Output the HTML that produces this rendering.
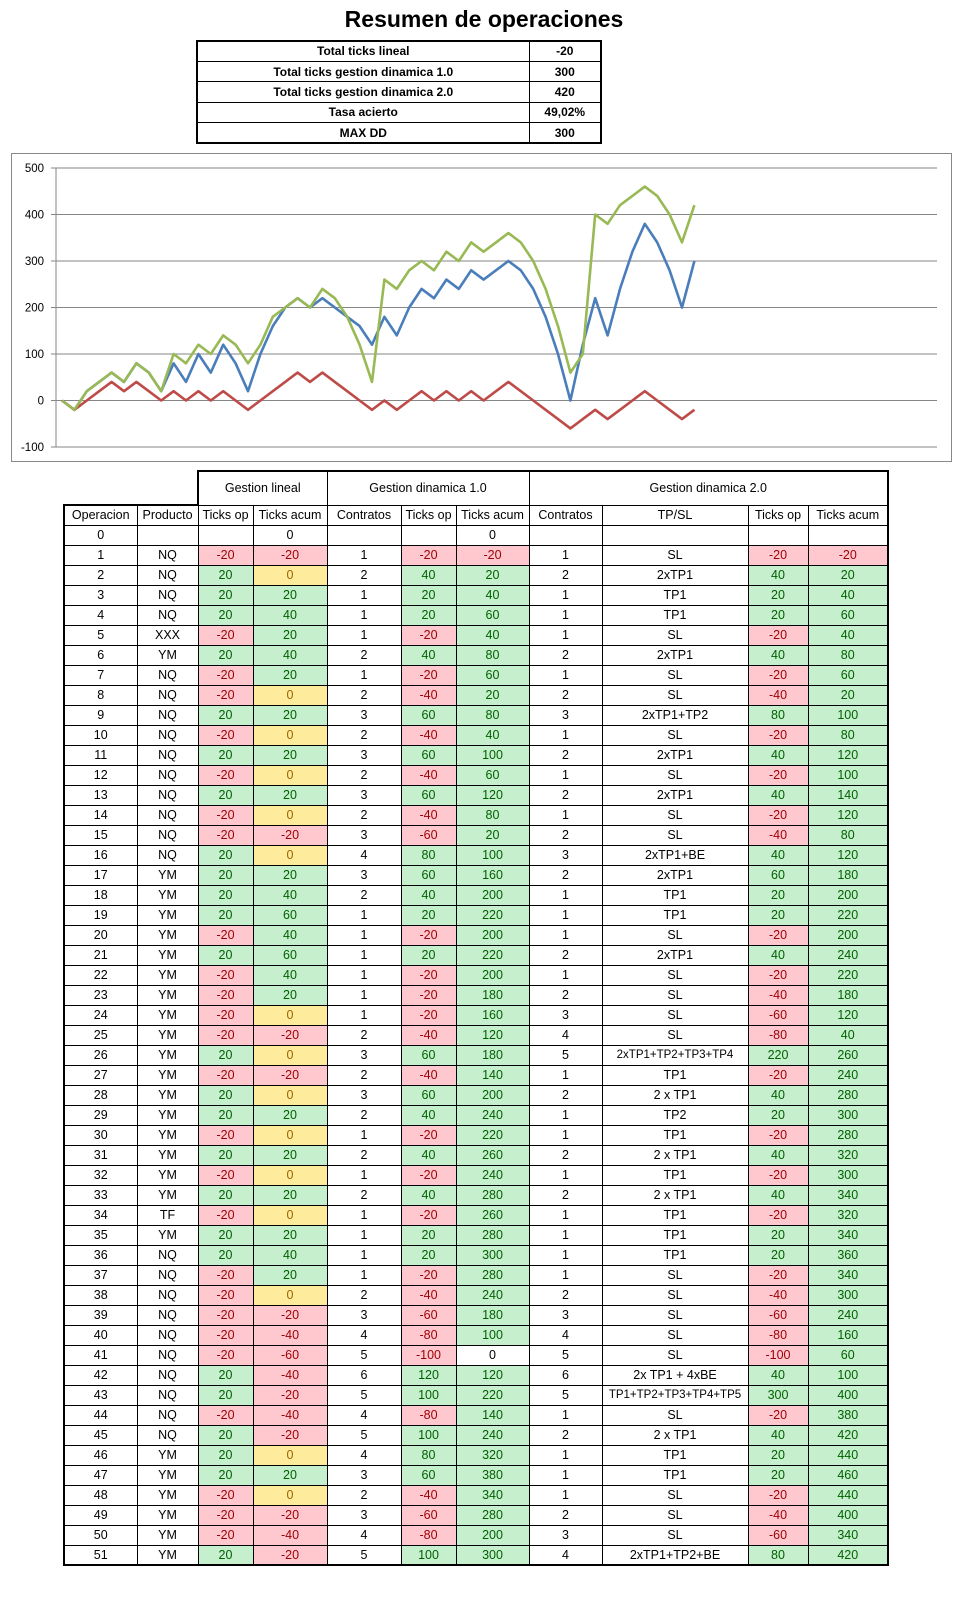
<!DOCTYPE html>
<html><head><meta charset="utf-8"><style>
*{margin:0;padding:0;box-sizing:border-box}
body{width:968px;height:1605px;background:#fff;position:relative;font-family:"Liberation Sans",sans-serif;overflow:hidden}
#title{position:absolute;left:0;width:968px;top:6px;text-align:center;font-weight:bold;font-size:23px;color:#000}
#sum{position:absolute;left:196px;top:40px;border-collapse:collapse;border:2px solid #000}
#sum td{border:1px solid #000;height:20.4px;font-weight:bold;font-size:12px;text-align:center;padding:0}
#main{position:absolute;left:63px;top:470px;border-collapse:collapse;table-layout:fixed}
#main td{border:1px solid #000;height:20px;font-size:12.5px;text-align:center;padding:0;white-space:nowrap;overflow:hidden;color:#000}
#main tr.h1 td{height:34px;border-top:2px solid #000}
#main tr.h1 td:last-child{border-right:2px solid #000}
#main tr:not(.h1) td:first-child{border-left:2px solid #000}
#main tr:not(.h1) td:last-child{border-right:2px solid #000}
#main tr:nth-child(2) td:nth-child(1),#main tr:nth-child(2) td:nth-child(2){border-top:2px solid #000}
#main tr:last-child td{border-bottom:2px solid #000}
#main tr.h1 td.n{border:none}
.r{background:#FFC7CE;color:#9C0006!important}
.g{background:#C6EFCE;color:#006100!important}
.y{background:#FFEB9C;color:#9C6500!important}
.sm{font-size:11.5px!important}
</style></head><body>
<div id="title">Resumen de operaciones</div>
<table id="sum">
<colgroup><col style="width:332px"><col style="width:72px"></colgroup>
<tr><td>Total ticks lineal</td><td>-20</td></tr>
<tr><td>Total ticks gestion dinamica 1.0</td><td>300</td></tr>
<tr><td>Total ticks gestion dinamica 2.0</td><td>420</td></tr>
<tr><td>Tasa acierto</td><td>49,02%</td></tr>
<tr><td>MAX DD</td><td>300</td></tr>
</table>

<svg style="position:absolute;left:0;top:0" width="968" height="470" xmlns="http://www.w3.org/2000/svg">
<rect x="11.5" y="153.5" width="940" height="308" fill="#fff" stroke="#888" stroke-width="1"/>
<g stroke="#868686" stroke-width="1">
<line x1="51" y1="168" x2="937" y2="168"/>
<line x1="51" y1="214.5" x2="937" y2="214.5"/>
<line x1="51" y1="261" x2="937" y2="261"/>
<line x1="51" y1="307.5" x2="937" y2="307.5"/>
<line x1="51" y1="354" x2="937" y2="354"/>
<line x1="51" y1="400.5" x2="937" y2="400.5"/>
<line x1="51" y1="447" x2="937" y2="447"/>
<line x1="56" y1="168" x2="56" y2="447"/>
</g>
<g font-family="Liberation Sans, sans-serif" font-size="11.5" fill="#000" text-anchor="end">
<text x="44" y="172">500</text>
<text x="44" y="218.5">400</text>
<text x="44" y="265">300</text>
<text x="44" y="311.5">200</text>
<text x="44" y="358">100</text>
<text x="44" y="404.5">0</text>
<text x="44" y="451">-100</text>
</g>
<g transform="translate(62,400.5) scale(12.4,-0.465)" fill="none" stroke-width="2.6" stroke-linejoin="round">
<polyline vector-effect="non-scaling-stroke" stroke="#4A7EBB" points="0,0 1,-20 2,20 3,40 4,60 5,40 6,80 7,60 8,20 9,80 10,40 11,100 12,60 13,120 14,80 15,20 16,100 17,160 18,200 19,220 20,200 21,220 22,200 23,180 24,160 25,120 26,180 27,140 28,200 29,240 30,220 31,260 32,240 33,280 34,260 35,280 36,300 37,280 38,240 39,180 40,100 41,0 42,120 43,220 44,140 45,240 46,320 47,380 48,340 49,280 50,200 51,300"/>
<polyline vector-effect="non-scaling-stroke" stroke="#BE4B48" points="0,0 1,-20 2,0 3,20 4,40 5,20 6,40 7,20 8,0 9,20 10,0 11,20 12,0 13,20 14,0 15,-20 16,0 17,20 18,40 19,60 20,40 21,60 22,40 23,20 24,0 25,-20 26,0 27,-20 28,0 29,20 30,0 31,20 32,0 33,20 34,0 35,20 36,40 37,20 38,0 39,-20 40,-40 41,-60 42,-40 43,-20 44,-40 45,-20 46,0 47,20 48,0 49,-20 50,-40 51,-20"/>
<polyline vector-effect="non-scaling-stroke" stroke="#98B954" points="0,0 1,-20 2,20 3,40 4,60 5,40 6,80 7,60 8,20 9,100 10,80 11,120 12,100 13,140 14,120 15,80 16,120 17,180 18,200 19,220 20,200 21,240 22,220 23,180 24,120 25,40 26,260 27,240 28,280 29,300 30,280 31,320 32,300 33,340 34,320 35,340 36,360 37,340 38,300 39,240 40,160 41,60 42,100 43,400 44,380 45,420 46,440 47,460 48,440 49,400 50,340 51,420"/>
</g>
</svg>

<table id="main">
<colgroup><col style="width:73px"><col style="width:61px"><col style="width:55px"><col style="width:74px"><col style="width:74px"><col style="width:55px"><col style="width:73px"><col style="width:73px"><col style="width:146px"><col style="width:60px"><col style="width:80px"></colgroup>
<tr class="h1"><td class="n"></td><td class="n"></td><td colspan="2" style="border-left:2px solid #000">Gestion lineal</td><td colspan="3">Gestion dinamica 1.0</td><td colspan="4">Gestion dinamica 2.0</td></tr>
<tr><td>Operacion</td><td>Producto</td><td>Ticks op</td><td>Ticks acum</td><td>Contratos</td><td>Ticks op</td><td>Ticks acum</td><td>Contratos</td><td>TP/SL</td><td>Ticks op</td><td>Ticks acum</td></tr>
<tr><td>0</td><td></td><td></td><td>0</td><td></td><td></td><td>0</td><td></td><td></td><td></td><td></td></tr>
<tr><td>1</td><td>NQ</td><td class="r">-20</td><td class="r">-20</td><td>1</td><td class="r">-20</td><td class="r">-20</td><td>1</td><td>SL</td><td class="r">-20</td><td class="r">-20</td></tr>
<tr><td>2</td><td>NQ</td><td class="g">20</td><td class="y">0</td><td>2</td><td class="g">40</td><td class="g">20</td><td>2</td><td>2xTP1</td><td class="g">40</td><td class="g">20</td></tr>
<tr><td>3</td><td>NQ</td><td class="g">20</td><td class="g">20</td><td>1</td><td class="g">20</td><td class="g">40</td><td>1</td><td>TP1</td><td class="g">20</td><td class="g">40</td></tr>
<tr><td>4</td><td>NQ</td><td class="g">20</td><td class="g">40</td><td>1</td><td class="g">20</td><td class="g">60</td><td>1</td><td>TP1</td><td class="g">20</td><td class="g">60</td></tr>
<tr><td>5</td><td>XXX</td><td class="r">-20</td><td class="g">20</td><td>1</td><td class="r">-20</td><td class="g">40</td><td>1</td><td>SL</td><td class="r">-20</td><td class="g">40</td></tr>
<tr><td>6</td><td>YM</td><td class="g">20</td><td class="g">40</td><td>2</td><td class="g">40</td><td class="g">80</td><td>2</td><td>2xTP1</td><td class="g">40</td><td class="g">80</td></tr>
<tr><td>7</td><td>NQ</td><td class="r">-20</td><td class="g">20</td><td>1</td><td class="r">-20</td><td class="g">60</td><td>1</td><td>SL</td><td class="r">-20</td><td class="g">60</td></tr>
<tr><td>8</td><td>NQ</td><td class="r">-20</td><td class="y">0</td><td>2</td><td class="r">-40</td><td class="g">20</td><td>2</td><td>SL</td><td class="r">-40</td><td class="g">20</td></tr>
<tr><td>9</td><td>NQ</td><td class="g">20</td><td class="g">20</td><td>3</td><td class="g">60</td><td class="g">80</td><td>3</td><td>2xTP1+TP2</td><td class="g">80</td><td class="g">100</td></tr>
<tr><td>10</td><td>NQ</td><td class="r">-20</td><td class="y">0</td><td>2</td><td class="r">-40</td><td class="g">40</td><td>1</td><td>SL</td><td class="r">-20</td><td class="g">80</td></tr>
<tr><td>11</td><td>NQ</td><td class="g">20</td><td class="g">20</td><td>3</td><td class="g">60</td><td class="g">100</td><td>2</td><td>2xTP1</td><td class="g">40</td><td class="g">120</td></tr>
<tr><td>12</td><td>NQ</td><td class="r">-20</td><td class="y">0</td><td>2</td><td class="r">-40</td><td class="g">60</td><td>1</td><td>SL</td><td class="r">-20</td><td class="g">100</td></tr>
<tr><td>13</td><td>NQ</td><td class="g">20</td><td class="g">20</td><td>3</td><td class="g">60</td><td class="g">120</td><td>2</td><td>2xTP1</td><td class="g">40</td><td class="g">140</td></tr>
<tr><td>14</td><td>NQ</td><td class="r">-20</td><td class="y">0</td><td>2</td><td class="r">-40</td><td class="g">80</td><td>1</td><td>SL</td><td class="r">-20</td><td class="g">120</td></tr>
<tr><td>15</td><td>NQ</td><td class="r">-20</td><td class="r">-20</td><td>3</td><td class="r">-60</td><td class="g">20</td><td>2</td><td>SL</td><td class="r">-40</td><td class="g">80</td></tr>
<tr><td>16</td><td>NQ</td><td class="g">20</td><td class="y">0</td><td>4</td><td class="g">80</td><td class="g">100</td><td>3</td><td>2xTP1+BE</td><td class="g">40</td><td class="g">120</td></tr>
<tr><td>17</td><td>YM</td><td class="g">20</td><td class="g">20</td><td>3</td><td class="g">60</td><td class="g">160</td><td>2</td><td>2xTP1</td><td class="g">60</td><td class="g">180</td></tr>
<tr><td>18</td><td>YM</td><td class="g">20</td><td class="g">40</td><td>2</td><td class="g">40</td><td class="g">200</td><td>1</td><td>TP1</td><td class="g">20</td><td class="g">200</td></tr>
<tr><td>19</td><td>YM</td><td class="g">20</td><td class="g">60</td><td>1</td><td class="g">20</td><td class="g">220</td><td>1</td><td>TP1</td><td class="g">20</td><td class="g">220</td></tr>
<tr><td>20</td><td>YM</td><td class="r">-20</td><td class="g">40</td><td>1</td><td class="r">-20</td><td class="g">200</td><td>1</td><td>SL</td><td class="r">-20</td><td class="g">200</td></tr>
<tr><td>21</td><td>YM</td><td class="g">20</td><td class="g">60</td><td>1</td><td class="g">20</td><td class="g">220</td><td>2</td><td>2xTP1</td><td class="g">40</td><td class="g">240</td></tr>
<tr><td>22</td><td>YM</td><td class="r">-20</td><td class="g">40</td><td>1</td><td class="r">-20</td><td class="g">200</td><td>1</td><td>SL</td><td class="r">-20</td><td class="g">220</td></tr>
<tr><td>23</td><td>YM</td><td class="r">-20</td><td class="g">20</td><td>1</td><td class="r">-20</td><td class="g">180</td><td>2</td><td>SL</td><td class="r">-40</td><td class="g">180</td></tr>
<tr><td>24</td><td>YM</td><td class="r">-20</td><td class="y">0</td><td>1</td><td class="r">-20</td><td class="g">160</td><td>3</td><td>SL</td><td class="r">-60</td><td class="g">120</td></tr>
<tr><td>25</td><td>YM</td><td class="r">-20</td><td class="r">-20</td><td>2</td><td class="r">-40</td><td class="g">120</td><td>4</td><td>SL</td><td class="r">-80</td><td class="g">40</td></tr>
<tr><td>26</td><td>YM</td><td class="g">20</td><td class="y">0</td><td>3</td><td class="g">60</td><td class="g">180</td><td>5</td><td class="sm">2xTP1+TP2+TP3+TP4</td><td class="g">220</td><td class="g">260</td></tr>
<tr><td>27</td><td>YM</td><td class="r">-20</td><td class="r">-20</td><td>2</td><td class="r">-40</td><td class="g">140</td><td>1</td><td>TP1</td><td class="r">-20</td><td class="g">240</td></tr>
<tr><td>28</td><td>YM</td><td class="g">20</td><td class="y">0</td><td>3</td><td class="g">60</td><td class="g">200</td><td>2</td><td>2 x TP1</td><td class="g">40</td><td class="g">280</td></tr>
<tr><td>29</td><td>YM</td><td class="g">20</td><td class="g">20</td><td>2</td><td class="g">40</td><td class="g">240</td><td>1</td><td>TP2</td><td class="g">20</td><td class="g">300</td></tr>
<tr><td>30</td><td>YM</td><td class="r">-20</td><td class="y">0</td><td>1</td><td class="r">-20</td><td class="g">220</td><td>1</td><td>TP1</td><td class="r">-20</td><td class="g">280</td></tr>
<tr><td>31</td><td>YM</td><td class="g">20</td><td class="g">20</td><td>2</td><td class="g">40</td><td class="g">260</td><td>2</td><td>2 x TP1</td><td class="g">40</td><td class="g">320</td></tr>
<tr><td>32</td><td>YM</td><td class="r">-20</td><td class="y">0</td><td>1</td><td class="r">-20</td><td class="g">240</td><td>1</td><td>TP1</td><td class="r">-20</td><td class="g">300</td></tr>
<tr><td>33</td><td>YM</td><td class="g">20</td><td class="g">20</td><td>2</td><td class="g">40</td><td class="g">280</td><td>2</td><td>2 x TP1</td><td class="g">40</td><td class="g">340</td></tr>
<tr><td>34</td><td>TF</td><td class="r">-20</td><td class="y">0</td><td>1</td><td class="r">-20</td><td class="g">260</td><td>1</td><td>TP1</td><td class="r">-20</td><td class="g">320</td></tr>
<tr><td>35</td><td>YM</td><td class="g">20</td><td class="g">20</td><td>1</td><td class="g">20</td><td class="g">280</td><td>1</td><td>TP1</td><td class="g">20</td><td class="g">340</td></tr>
<tr><td>36</td><td>NQ</td><td class="g">20</td><td class="g">40</td><td>1</td><td class="g">20</td><td class="g">300</td><td>1</td><td>TP1</td><td class="g">20</td><td class="g">360</td></tr>
<tr><td>37</td><td>NQ</td><td class="r">-20</td><td class="g">20</td><td>1</td><td class="r">-20</td><td class="g">280</td><td>1</td><td>SL</td><td class="r">-20</td><td class="g">340</td></tr>
<tr><td>38</td><td>NQ</td><td class="r">-20</td><td class="y">0</td><td>2</td><td class="r">-40</td><td class="g">240</td><td>2</td><td>SL</td><td class="r">-40</td><td class="g">300</td></tr>
<tr><td>39</td><td>NQ</td><td class="r">-20</td><td class="r">-20</td><td>3</td><td class="r">-60</td><td class="g">180</td><td>3</td><td>SL</td><td class="r">-60</td><td class="g">240</td></tr>
<tr><td>40</td><td>NQ</td><td class="r">-20</td><td class="r">-40</td><td>4</td><td class="r">-80</td><td class="g">100</td><td>4</td><td>SL</td><td class="r">-80</td><td class="g">160</td></tr>
<tr><td>41</td><td>NQ</td><td class="r">-20</td><td class="r">-60</td><td>5</td><td class="r">-100</td><td>0</td><td>5</td><td>SL</td><td class="r">-100</td><td class="g">60</td></tr>
<tr><td>42</td><td>NQ</td><td class="g">20</td><td class="r">-40</td><td>6</td><td class="g">120</td><td class="g">120</td><td>6</td><td>2x TP1 + 4xBE</td><td class="g">40</td><td class="g">100</td></tr>
<tr><td>43</td><td>NQ</td><td class="g">20</td><td class="r">-20</td><td>5</td><td class="g">100</td><td class="g">220</td><td>5</td><td class="sm">TP1+TP2+TP3+TP4+TP5</td><td class="g">300</td><td class="g">400</td></tr>
<tr><td>44</td><td>NQ</td><td class="r">-20</td><td class="r">-40</td><td>4</td><td class="r">-80</td><td class="g">140</td><td>1</td><td>SL</td><td class="r">-20</td><td class="g">380</td></tr>
<tr><td>45</td><td>NQ</td><td class="g">20</td><td class="r">-20</td><td>5</td><td class="g">100</td><td class="g">240</td><td>2</td><td>2 x TP1</td><td class="g">40</td><td class="g">420</td></tr>
<tr><td>46</td><td>YM</td><td class="g">20</td><td class="y">0</td><td>4</td><td class="g">80</td><td class="g">320</td><td>1</td><td>TP1</td><td class="g">20</td><td class="g">440</td></tr>
<tr><td>47</td><td>YM</td><td class="g">20</td><td class="g">20</td><td>3</td><td class="g">60</td><td class="g">380</td><td>1</td><td>TP1</td><td class="g">20</td><td class="g">460</td></tr>
<tr><td>48</td><td>YM</td><td class="r">-20</td><td class="y">0</td><td>2</td><td class="r">-40</td><td class="g">340</td><td>1</td><td>SL</td><td class="r">-20</td><td class="g">440</td></tr>
<tr><td>49</td><td>YM</td><td class="r">-20</td><td class="r">-20</td><td>3</td><td class="r">-60</td><td class="g">280</td><td>2</td><td>SL</td><td class="r">-40</td><td class="g">400</td></tr>
<tr><td>50</td><td>YM</td><td class="r">-20</td><td class="r">-40</td><td>4</td><td class="r">-80</td><td class="g">200</td><td>3</td><td>SL</td><td class="r">-60</td><td class="g">340</td></tr>
<tr><td>51</td><td>YM</td><td class="g">20</td><td class="r">-20</td><td>5</td><td class="g">100</td><td class="g">300</td><td>4</td><td>2xTP1+TP2+BE</td><td class="g">80</td><td class="g">420</td></tr>
</table>
</body></html>
